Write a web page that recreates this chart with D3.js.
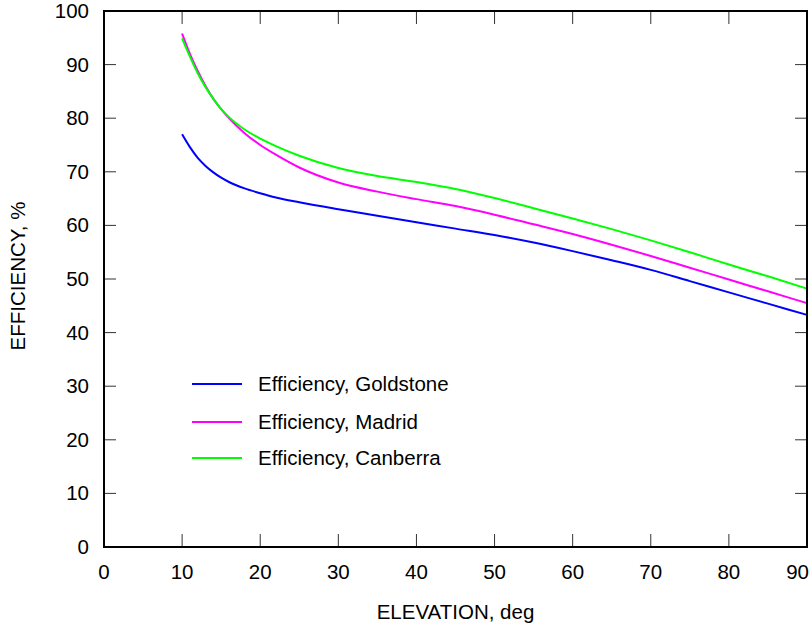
<!DOCTYPE html>
<html><head><meta charset="utf-8">
<script src="https://cdn.jsdelivr.net/npm/d3@7"></script>
<style>body{margin:0;background:#fff}svg{display:block}text{font-family:"Liberation Sans",Arial,sans-serif;fill:#000}</style>
</head><body><svg id="c" width="812" height="627"></svg>
<script>
const elevation = [10,11,12,13,14,15,16,18,20,22,25,30,35,40,45,50,55,60,65,70,75,80,85,90];
const goldstone = [77.0,74.6,72.6,71.1,69.9,68.9,68.1,66.9,66.0,65.2,64.3,63.0,61.8,60.6,59.4,58.2,56.8,55.2,53.5,51.7,49.6,47.5,45.4,43.3];
const madrid    = [95.8,92.0,88.8,86.0,83.6,81.7,80.0,77.2,75.0,73.2,70.8,68.0,66.3,64.9,63.6,62.0,60.2,58.4,56.4,54.3,52.1,49.9,47.7,45.5];
const canberra  = [94.9,91.5,88.4,85.8,83.6,81.7,80.2,77.9,76.2,74.8,73.0,70.7,69.2,68.1,66.8,65.1,63.2,61.3,59.3,57.2,55.0,52.7,50.5,48.2];
const seriesNames = ["Efficiency, Goldstone","Efficiency, Madrid","Efficiency, Canberra"];
const seriesColors = ["#0000ff","#ff00ff","#00ff00"];
const xTicks = [0,10,20,30,40,50,60,70,80,90];
const yTicks = [0,10,20,30,40,50,60,70,80,90,100];

const svg = d3.select("#c");
const L=104, R=807, T=11, B=547;
const x = d3.scaleLinear().domain([0,90]).range([L,R]);
const y = d3.scaleLinear().domain([0,100]).range([B,T]);
const fs = 20.5;

// ticks (inward, mirrored)
const tk = svg.append("g").attr("stroke","#333").attr("stroke-width",1);
xTicks.slice(1,-1).forEach(v=>{
  tk.append("line").attr("x1",x(v)).attr("x2",x(v)).attr("y1",B).attr("y2",B-13);
  tk.append("line").attr("x1",x(v)).attr("x2",x(v)).attr("y1",T).attr("y2",T+13);
});
yTicks.slice(1,-1).forEach(v=>{
  tk.append("line").attr("y1",y(v)).attr("y2",y(v)).attr("x1",L).attr("x2",L+12);
  tk.append("line").attr("y1",y(v)).attr("y2",y(v)).attr("x1",R).attr("x2",R-12);
});

// tick labels
xTicks.forEach((v,i)=>{
  const last = i===xTicks.length-1;
  svg.append("text").attr("x", last? 809 : x(v)).attr("y",579)
    .attr("text-anchor", last?"end":"middle").attr("font-size",fs).text(v);
});
yTicks.forEach(v=>{
  svg.append("text").attr("x",89).attr("y",y(v)+7).attr("text-anchor","end")
    .attr("font-size",fs).text(v);
});

// axis titles
svg.append("text").attr("x",(L+R)/2).attr("y",619).attr("text-anchor","middle")
  .attr("font-size",fs).text("ELEVATION, deg");
svg.append("text").attr("transform",`translate(25,${(T+B)/2 - 3}) rotate(-90)`)
  .attr("text-anchor","middle").attr("font-size",fs).text("EFFICIENCY, %");

// lines
const data = [goldstone, madrid, canberra];
const line = d3.line().x((d,i)=>x(elevation[i])).y(d=>y(d)).curve(d3.curveMonotoneX);
data.forEach((s,k)=>{
  svg.append("path").datum(s).attr("d",line).attr("fill","none")
    .attr("stroke",seriesColors[k]).attr("stroke-width",2);
});

// legend
const legY = [384, 422, 458];
seriesNames.forEach((n,k)=>{
  svg.append("line").attr("x1",192).attr("x2",242).attr("y1",legY[k]).attr("y2",legY[k])
    .attr("stroke",seriesColors[k]).attr("stroke-width",2);
  svg.append("text").attr("x",258).attr("y",legY[k]+7).attr("font-size",fs).text(n);
});

// frame
svg.append("rect").attr("x",L).attr("y",T).attr("width",R-L).attr("height",B-T)
  .attr("fill","none").attr("stroke","#000").attr("stroke-width",2);
</script></body></html>
